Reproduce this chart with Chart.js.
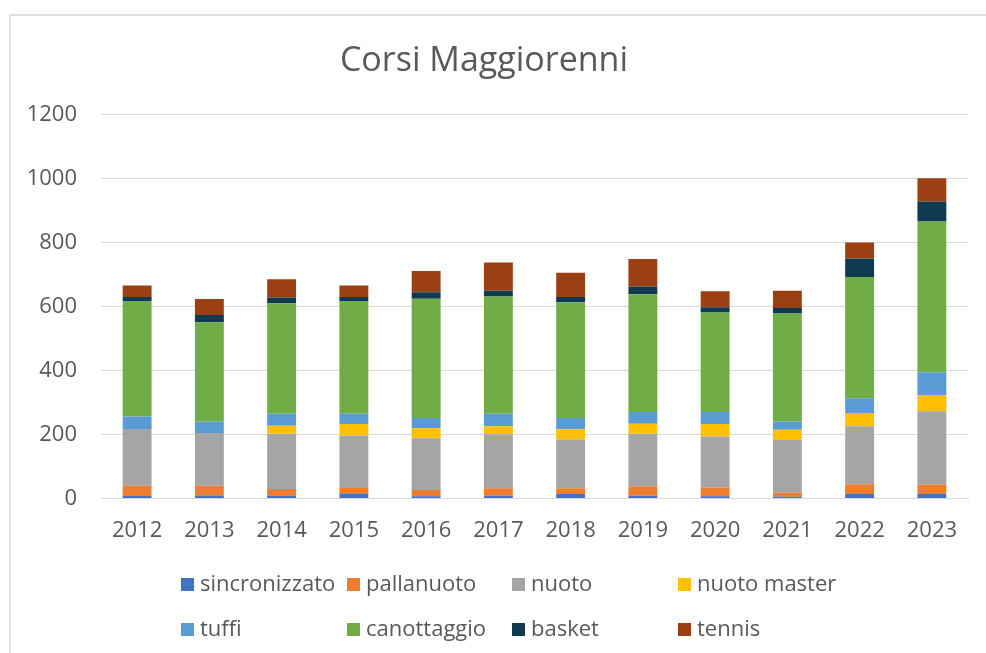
<!DOCTYPE html>
<html>
<head>
<meta charset="utf-8">
<script src="https://cdn.jsdelivr.net/npm/chart.js@4/dist/chart.umd.min.js"></script>
<style>
  body { margin: 0; background: #fff; }
  #wrap { position: relative; width: 986px; height: 653px; overflow: hidden; }
  #frame { position: absolute; left: 9px; top: 14px; width: 1000px; height: 700px;
           border-top: 2px solid #e0e0e0; border-left: 2px solid #e0e0e0; }
  #chart { position: absolute; left: 0; top: 0; }
  .leg { position: absolute; font-family: "Open Sans", sans-serif; font-size: 22px; color: #595959;
         line-height: 26px; white-space: nowrap; }
  .leg i { display: inline-block; width: 13px; height: 13px; margin-right: 6px; vertical-align: 0px; }
</style>
</head>
<body>
<div id="wrap">
  <div id="frame"></div>
  <canvas id="chart" width="986" height="653"></canvas>
  <div id="legend"></div>
</div>
<script>
// anni
const years = ["2012", "2013", "2014", "2015", "2016", "2017", "2018", "2019", "2020", "2021", "2022", "2023"];

// iscritti per corso
const sincronizzato = [8, 10, 10, 14, 7, 9, 14, 9, 7, 6, 14, 14];
const pallanuoto = [32, 30, 20, 19, 20, 23, 18, 30, 28, 12, 31, 30];
const nuoto = [178, 165, 173, 164, 162, 169, 153, 164, 159, 165, 181, 229];
const nuotoMaster = [0, 0, 25, 36, 31, 25, 32, 31, 39, 32, 42, 51];
const tuffi = [39, 35, 37, 32, 32, 39, 35, 37, 38, 26, 46, 71];
const canottaggio = [359, 311, 346, 351, 373, 367, 362, 368, 311, 338, 379, 471];
const basket = [14, 23, 18, 14, 20, 18, 16, 24, 16, 17, 58, 63];
const tennis = [36, 50, 57, 36, 67, 88, 76, 86, 50, 54, 50, 73];

const yTicks = [0, 200, 400, 600, 800, 1000, 1200];

const series = [
  { label: "sincronizzato", data: sincronizzato, color: "#4472C4" },
  { label: "pallanuoto", data: pallanuoto, color: "#ED7D31" },
  { label: "nuoto", data: nuoto, color: "#A5A5A5" },
  { label: "nuoto master", data: nuotoMaster, color: "#FFC000" },
  { label: "tuffi", data: tuffi, color: "#5B9BD5" },
  { label: "canottaggio", data: canottaggio, color: "#70AD47" },
  { label: "basket", data: basket, color: "#0F3A50" },
  { label: "tennis", data: tennis, color: "#9A4012" }
];

const textColor = "#595959";
const font = "'Open Sans', sans-serif";

new Chart(document.getElementById("chart"), {
  type: "bar",
  data: {
    labels: years,
    datasets: series.map(s => ({
      label: s.label,
      data: s.data,
      backgroundColor: s.color,
      barPercentage: 0.4,
      categoryPercentage: 1
    }))
  },
  options: {
    responsive: false,
    animation: false,
    layout: { padding: { top: 22, right: 18, bottom: 90, left: 0 } },
    scales: {
      x: {
        stacked: true,
        grid: { display: false, drawTicks: false },
        border: { color: "#d9d9d9", width: 1 },
        ticks: { color: textColor, font: { family: font, size: 22 }, padding: 19, maxRotation: 0 }
      },
      y: {
        stacked: true,
        min: 0,
        max: 1200,
        afterBuildTicks: axis => { axis.ticks = yTicks.map(v => ({ value: v })); },
        afterFit: axis => { axis.width = 101; },
        grid: { color: "#d9d9d9", lineWidth: 1, drawTicks: false },
        border: { display: false },
        ticks: { color: textColor, font: { family: font, size: 22 }, padding: 24, callback: v => String(v) }
      }
    },
    plugins: {
      title: {
        display: true,
        text: "Corsi Maggiorenni",
        color: textColor,
        font: { family: font, size: 34, weight: "normal" },
        padding: { top: 19, bottom: 33 }
      },
      legend: { display: false },
      tooltip: { enabled: false }
    }
  }
});

// legenda a griglia 4 colonne come in Excel
const legCols = [181, 347, 512, 678];
const legRows = [569, 614];
const legend = document.getElementById("legend");
series.forEach((s, i) => {
  const d = document.createElement("div");
  d.className = "leg";
  d.style.left = legCols[i % 4] + "px";
  d.style.top = legRows[Math.floor(i / 4)] + "px";
  d.innerHTML = `<i style="background:${s.color}"></i>${s.label}`;
  legend.appendChild(d);
});
</script>
</body>
</html>
